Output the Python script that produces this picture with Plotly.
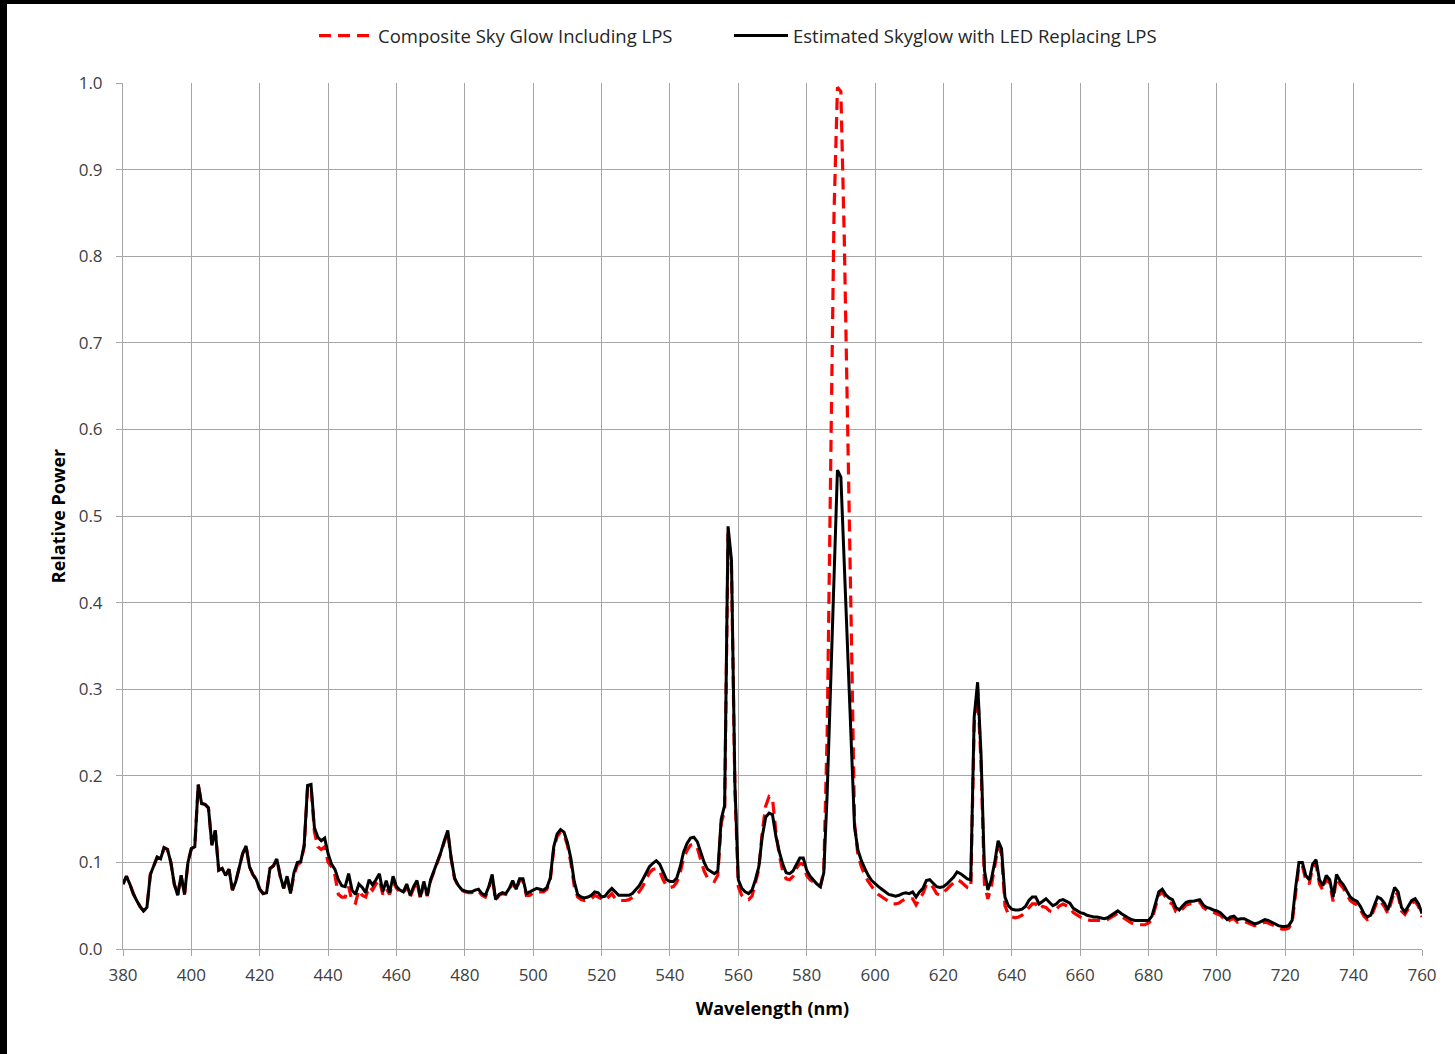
import plotly.graph_objects as go

wavelength = list(range(380, 761))

led_replacing = [
    0.075, 0.084, 0.075, 0.064, 0.056, 0.049, 0.044, 0.048, 0.086, 0.096,  # 380-389
    0.106, 0.104, 0.117, 0.115, 0.100, 0.075, 0.062, 0.085, 0.063, 0.100,  # 390-399
    0.116, 0.118, 0.190, 0.168, 0.167, 0.163, 0.120, 0.137, 0.091, 0.093,  # 400-409
    0.085, 0.092, 0.068, 0.078, 0.095, 0.110, 0.119, 0.095, 0.086, 0.080,  # 410-419
    0.069, 0.064, 0.065, 0.093, 0.096, 0.104, 0.084, 0.070, 0.084, 0.064,  # 420-429
    0.088, 0.100, 0.101, 0.120, 0.189, 0.190, 0.140, 0.129, 0.125, 0.128,  # 430-439
    0.110, 0.098, 0.092, 0.080, 0.073, 0.072, 0.087, 0.068, 0.063, 0.075,  # 440-449
    0.071, 0.065, 0.080, 0.074, 0.080, 0.087, 0.066, 0.079, 0.065, 0.084,  # 450-459
    0.072, 0.068, 0.066, 0.075, 0.062, 0.072, 0.079, 0.060, 0.078, 0.062,  # 460-469
    0.080, 0.090, 0.100, 0.112, 0.125, 0.137, 0.105, 0.082, 0.074, 0.069,  # 470-479
    0.067, 0.066, 0.066, 0.068, 0.069, 0.064, 0.062, 0.072, 0.086, 0.057,  # 480-489
    0.063, 0.065, 0.064, 0.070, 0.079, 0.069, 0.081, 0.081, 0.064, 0.066,  # 490-499
    0.068, 0.070, 0.069, 0.068, 0.071, 0.082, 0.118, 0.133, 0.138, 0.135,  # 500-509
    0.123, 0.105, 0.078, 0.063, 0.060, 0.059, 0.060, 0.062, 0.066, 0.065,  # 510-519
    0.060, 0.061, 0.066, 0.070, 0.066, 0.062, 0.062, 0.062, 0.062, 0.064,  # 520-529
    0.068, 0.073, 0.080, 0.087, 0.095, 0.099, 0.102, 0.098, 0.088, 0.080,  # 530-539
    0.078, 0.078, 0.082, 0.095, 0.112, 0.122, 0.128, 0.129, 0.124, 0.112,  # 540-549
    0.100, 0.092, 0.089, 0.087, 0.090, 0.150, 0.166, 0.488, 0.449, 0.190,  # 550-559
    0.080, 0.070, 0.066, 0.064, 0.068, 0.080, 0.095, 0.130, 0.152, 0.157,  # 560-569
    0.155, 0.130, 0.112, 0.098, 0.088, 0.087, 0.090, 0.098, 0.105, 0.105,  # 570-579
    0.091, 0.084, 0.079, 0.075, 0.072, 0.088, 0.180, 0.300, 0.430, 0.553,  # 580-589
    0.545, 0.440, 0.340, 0.240, 0.141, 0.114, 0.102, 0.093, 0.085, 0.079,  # 590-599
    0.075, 0.072, 0.069, 0.066, 0.063, 0.062, 0.061, 0.062, 0.064, 0.065,  # 600-609
    0.064, 0.066, 0.060, 0.066, 0.070, 0.079, 0.080, 0.076, 0.072, 0.071,  # 610-619
    0.072, 0.075, 0.079, 0.083, 0.089, 0.087, 0.084, 0.081, 0.080, 0.268,  # 620-629
    0.308, 0.225, 0.091, 0.068, 0.080, 0.100, 0.125, 0.116, 0.060, 0.050,  # 630-639
    0.046, 0.045, 0.045, 0.046, 0.049, 0.056, 0.060, 0.060, 0.052, 0.055,  # 640-649
    0.058, 0.054, 0.050, 0.052, 0.056, 0.057, 0.055, 0.053, 0.047, 0.044,  # 650-659
    0.042, 0.041, 0.039, 0.038, 0.037, 0.037, 0.036, 0.035, 0.036, 0.039,  # 660-669
    0.041, 0.044, 0.041, 0.038, 0.036, 0.034, 0.033, 0.033, 0.033, 0.033,  # 670-679
    0.033, 0.038, 0.052, 0.066, 0.069, 0.063, 0.059, 0.057, 0.048, 0.045,  # 680-689
    0.050, 0.054, 0.055, 0.055, 0.056, 0.057, 0.051, 0.048, 0.047, 0.045,  # 690-699
    0.044, 0.042, 0.038, 0.034, 0.037, 0.038, 0.034, 0.035, 0.035, 0.033,  # 700-709
    0.031, 0.029, 0.030, 0.032, 0.034, 0.033, 0.031, 0.029, 0.027, 0.026,  # 710-719
    0.026, 0.027, 0.033, 0.070, 0.100, 0.100, 0.085, 0.080, 0.098, 0.103,  # 720-729
    0.080, 0.073, 0.085, 0.080, 0.060, 0.086, 0.079, 0.074, 0.067, 0.060,  # 730-739
    0.057, 0.055, 0.049, 0.041, 0.037, 0.039, 0.050, 0.060, 0.058, 0.053,  # 740-749
    0.045, 0.058, 0.071, 0.066, 0.048, 0.043, 0.049, 0.056, 0.058, 0.052,  # 750-759
    0.041,                                                                 # 760
]

composite_lps = [
    0.075, 0.084, 0.075, 0.064, 0.056, 0.049, 0.044, 0.048, 0.086, 0.096,  # 380-389
    0.106, 0.104, 0.117, 0.115, 0.100, 0.075, 0.062, 0.085, 0.063, 0.100,  # 390-399
    0.116, 0.118, 0.190, 0.168, 0.167, 0.163, 0.120, 0.137, 0.091, 0.093,  # 400-409
    0.085, 0.092, 0.068, 0.078, 0.095, 0.110, 0.119, 0.095, 0.086, 0.080,  # 410-419
    0.069, 0.064, 0.065, 0.093, 0.096, 0.104, 0.084, 0.070, 0.084, 0.064,  # 420-429
    0.085, 0.097, 0.100, 0.118, 0.187, 0.188, 0.135, 0.118, 0.115, 0.118,  # 430-439
    0.100, 0.095, 0.085, 0.063, 0.060, 0.060, 0.072, 0.055, 0.053, 0.068,  # 440-449
    0.062, 0.060, 0.072, 0.068, 0.075, 0.080, 0.063, 0.070, 0.063, 0.078,  # 450-459
    0.070, 0.066, 0.064, 0.073, 0.060, 0.070, 0.077, 0.058, 0.076, 0.061,  # 460-469
    0.079, 0.089, 0.099, 0.111, 0.124, 0.135, 0.104, 0.081, 0.073, 0.068,  # 470-479
    0.066, 0.065, 0.065, 0.067, 0.067, 0.062, 0.060, 0.070, 0.084, 0.056,  # 480-489
    0.062, 0.064, 0.063, 0.068, 0.077, 0.068, 0.079, 0.079, 0.062, 0.062,  # 490-499
    0.065, 0.066, 0.066, 0.066, 0.069, 0.080, 0.115, 0.130, 0.135, 0.132,  # 500-509
    0.120, 0.100, 0.073, 0.060, 0.057, 0.056, 0.057, 0.058, 0.062, 0.060,  # 510-519
    0.057, 0.056, 0.060, 0.064, 0.058, 0.056, 0.056, 0.056, 0.057, 0.059,  # 520-529
    0.062, 0.066, 0.072, 0.080, 0.088, 0.092, 0.093, 0.090, 0.080, 0.073,  # 530-539
    0.071, 0.072, 0.077, 0.088, 0.105, 0.114, 0.120, 0.121, 0.117, 0.103,  # 540-549
    0.090, 0.082, 0.080, 0.078, 0.085, 0.145, 0.160, 0.480, 0.440, 0.185,  # 550-559
    0.072, 0.062, 0.058, 0.057, 0.061, 0.075, 0.092, 0.135, 0.165, 0.176,  # 560-569
    0.174, 0.135, 0.108, 0.090, 0.081, 0.080, 0.084, 0.093, 0.099, 0.098,  # 570-579
    0.085, 0.080, 0.077, 0.075, 0.072, 0.090, 0.250, 0.550, 0.850, 0.995,  # 580-589
    0.990, 0.820, 0.620, 0.380, 0.145, 0.108, 0.095, 0.085, 0.078, 0.072,  # 590-599
    0.067, 0.063, 0.060, 0.057, 0.054, 0.052, 0.052, 0.053, 0.056, 0.058,  # 600-609
    0.058, 0.058, 0.051, 0.058, 0.064, 0.074, 0.076, 0.071, 0.064, 0.062,  # 610-619
    0.065, 0.069, 0.073, 0.077, 0.080, 0.078, 0.075, 0.071, 0.070, 0.260,  # 620-629
    0.300, 0.215, 0.075, 0.058, 0.072, 0.095, 0.118, 0.110, 0.050, 0.040,  # 630-639
    0.037, 0.036, 0.037, 0.039, 0.043, 0.048, 0.052, 0.052, 0.046, 0.049,  # 640-649
    0.048, 0.044, 0.043, 0.046, 0.050, 0.052, 0.050, 0.048, 0.042, 0.039,  # 650-659
    0.037, 0.035, 0.034, 0.033, 0.033, 0.033, 0.033, 0.033, 0.034, 0.036,  # 660-669
    0.038, 0.041, 0.038, 0.035, 0.032, 0.030, 0.029, 0.028, 0.028, 0.028,  # 670-679
    0.030, 0.034, 0.048, 0.062, 0.066, 0.060, 0.054, 0.052, 0.043, 0.042,  # 680-689
    0.047, 0.051, 0.052, 0.052, 0.053, 0.054, 0.048, 0.045, 0.044, 0.042,  # 690-699
    0.041, 0.039, 0.035, 0.031, 0.034, 0.035, 0.031, 0.032, 0.032, 0.030,  # 700-709
    0.029, 0.027, 0.027, 0.029, 0.031, 0.030, 0.028, 0.026, 0.024, 0.023,  # 710-719
    0.023, 0.024, 0.030, 0.066, 0.096, 0.096, 0.080, 0.075, 0.094, 0.099,  # 720-729
    0.075, 0.068, 0.081, 0.076, 0.055, 0.082, 0.075, 0.070, 0.063, 0.056,  # 730-739
    0.053, 0.051, 0.045, 0.038, 0.034, 0.036, 0.046, 0.056, 0.054, 0.049,  # 740-749
    0.041, 0.054, 0.067, 0.062, 0.044, 0.040, 0.046, 0.053, 0.055, 0.049,  # 750-759
    0.037,                                                                 # 760
]

x_ticks = list(range(380, 761, 20))
y_ticks = [round(v * 0.1, 1) for v in range(0, 11)]

FONT = "Open Sans"
GRID = "#a6a6a6"

fig = go.Figure()
fig.add_trace(go.Scatter(
    x=wavelength, y=composite_lps, mode="lines",
    name="Composite Sky Glow Including LPS",
    line=dict(color="#ff0000", width=3.2, dash="12px,7px"),
    legend="legend",
))
fig.add_trace(go.Scatter(
    x=wavelength, y=led_replacing, mode="lines",
    name="Estimated Skyglow with LED Replacing LPS",
    line=dict(color="#000000", width=3),
    legend="legend2",
))

legend_common = dict(
    orientation="h", xanchor="left", yanchor="middle", y=(949 - 36) / 866,
    font=dict(family=FONT, size=18.5, color="#262626"),
    itemwidth=54, bgcolor="rgba(0,0,0,0)",
)

fig.update_layout(
    width=1455, height=1054,
    margin=dict(l=123, r=33, t=83, b=105),
    paper_bgcolor="white", plot_bgcolor="white",
    font=dict(family=FONT, size=17, color="#404040"),
    showlegend=True,
    legend=dict(x=(314 - 123) / 1299, **legend_common),
    legend2=dict(x=(729 - 123) / 1299, **legend_common),
    xaxis=dict(
        range=[380, 760], tickvals=x_ticks, ticktext=[str(t) for t in x_ticks],
        showgrid=True, gridcolor=GRID, gridwidth=1,
        showline=True, linecolor=GRID, linewidth=1, mirror=False,
        ticks="outside", ticklen=6, tickcolor=GRID, zeroline=False,
        ticklabelstandoff=5,
        title=dict(text="<b>Wavelength (nm)</b>", font=dict(family=FONT, size=18, color="#000000"), standoff=16),
        tickfont=dict(family=FONT, size=17, color="#404040"),
    ),
    yaxis=dict(
        range=[0, 1.0], tickvals=y_ticks, ticktext=[f"{v:.1f}" for v in y_ticks],
        showgrid=True, gridcolor=GRID, gridwidth=1,
        showline=True, linecolor=GRID, linewidth=1,
        ticks="outside", ticklen=6, tickcolor=GRID, zeroline=False,
        ticklabelstandoff=10,
        title=dict(text="<b>Relative Power</b>", font=dict(family=FONT, size=18, color="#000000"), standoff=8),
        tickfont=dict(family=FONT, size=17, color="#404040"),
    ),
    shapes=[
        dict(type="rect", xref="paper", yref="paper",
             x0=-123 / 1299, x1=(7 - 123) / 1299, y0=-105 / 866, y1=949 / 866,
             fillcolor="black", line=dict(width=0), layer="above"),
        dict(type="rect", xref="paper", yref="paper",
             x0=-123 / 1299, x1=1332 / 1299, y0=(949 - 4) / 866, y1=949 / 866,
             fillcolor="black", line=dict(width=0), layer="above"),
    ],
)

POST = (
    "document.body.style.margin='0';document.body.style.padding='0';"
    "document.body.style.overflow='hidden';"
    "var d=document.getElementById('{plot_id}');"
    "d.style.position='absolute';d.style.left='0px';d.style.top='0px';"
)

fig.write_html("out.html", post_script=POST, config={"displayModeBar": False})
